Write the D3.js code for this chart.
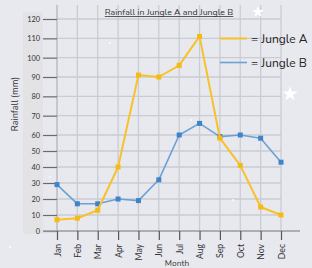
<!DOCTYPE html>
<html>
<head>
<meta charset="utf-8">
<script src="https://cdn.jsdelivr.net/npm/d3@7"></script>
<style>
  html, body { margin: 0; padding: 0; background: #e8e8ef; }
  svg { display: block; font-family: "Nunito", "Lato", "Open Sans", sans-serif; }
</style>
</head>
<body>
<svg id="chart" width="312" height="268"></svg>
<script>
// ---- data ----
var months = ['Jan', 'Feb', 'Mar', 'Apr', 'May', 'Jun', 'Jul', 'Aug', 'Sep', 'Oct', 'Nov', 'Dec'];
var jungleA = [7, 8, 13, 40, 91, 90, 96, 111, 58, 41, 15, 10];
var jungleB = [29, 17, 17, 20, 19, 32, 60, 66, 59, 60, 58, 43];
var yTicks = [0, 10, 20, 30, 40, 50, 60, 70, 80, 90, 100, 110, 120];
var seriesNames = ['Jungle A', 'Jungle B'];

var COLORS = { a: '#f7c22a', aDot: '#f5bb12', b: '#6aa2d8', bDot: '#3f84c8' };

var svg = d3.select('#chart');

// the source picture is a bit stretched above 60, so the y scale has two pieces
var x = d3.scalePoint().domain(months).range([57, 281]);
var y = d3.scaleLinear().domain([0, 60, 120]).range([231, 135, 19]);

// grey strip behind the y labels
svg.append('rect')
  .attr('x', 23).attr('y', 12).attr('width', 20).attr('height', 222)
  .attr('fill', '#e3e3e5');

// grid
var grid = svg.append('g');
grid.selectAll('line.h')
  .data(yTicks.slice(1))
  .enter().append('line')
  .attr('x1', 57).attr('x2', 281)
  .attr('y1', function (d) { return y(d); })
  .attr('y2', function (d) { return y(d); })
  .attr('stroke', '#cbcbd2').attr('stroke-width', 1.3);
grid.selectAll('line.v')
  .data(months)
  .enter().append('line')
  .attr('x1', function (d) { return x(d); })
  .attr('x2', function (d) { return x(d); })
  .attr('y1', 5).attr('y2', 231)
  .attr('stroke', function (d, i) { return i === 0 ? '#b4b4bc' : '#cbcbd2'; })
  .attr('stroke-width', 1.3);

// y axis ticks + labels
var yAxis = svg.append('g')
  .attr('transform', 'translate(57,0)')
  .call(d3.axisLeft(y).tickValues(yTicks).tickSize(14).tickPadding(3));
yAxis.select('.domain').remove();
yAxis.selectAll('.tick line').attr('stroke', '#6a6a6a').attr('stroke-width', 1.2);
yAxis.selectAll('.tick text')
  .attr('fill', '#333').style('font-size', '7.4px')
  .attr('font-family', 'Lato, "Open Sans", sans-serif');

// x axis
svg.append('line')
  .attr('x1', 43).attr('x2', 300).attr('y1', 231).attr('y2', 231)
  .attr('stroke', '#9a9aa0').attr('stroke-width', 1.3);
var xAxis = svg.append('g')
  .attr('transform', 'translate(0,231)')
  .call(d3.axisBottom(x).tickSize(9).tickPadding(4));
xAxis.select('.domain').remove();
xAxis.selectAll('.tick line').attr('stroke', '#555').attr('stroke-width', 1.2);
xAxis.selectAll('.tick text')
  .attr('fill', '#333').style('font-size', '8.6px')
  .attr('font-family', 'Lato, "Open Sans", sans-serif')
  .attr('text-anchor', 'end')
  .attr('dy', '0.35em')
  .attr('transform', 'translate(0,13) rotate(-90)')
  .attr('x', 0).attr('y', 0);

// axis titles
svg.append('text')
  .attr('transform', 'translate(18,104) rotate(-90)')
  .attr('text-anchor', 'middle')
  .attr('fill', '#333').style('font-size', '9px')
  .text('Rainfall (mm)');
svg.append('text')
  .attr('x', 177).attr('y', 265.5)
  .attr('text-anchor', 'middle')
  .attr('fill', '#333').style('font-size', '8.4px')
  .text('Month');

// title, underlined
var title = svg.append('text')
  .attr('x', 169).attr('y', 14.5)
  .attr('text-anchor', 'middle')
  .attr('fill', '#333').style('font-size', '8.8px')
  .text('Rainfall in Jungle A and Jungle B');
var tb = title.node().getBBox();
svg.append('line')
  .attr('x1', tb.x).attr('x2', tb.x + tb.width)
  .attr('y1', 16.5).attr('y2', 16.5)
  .attr('stroke', '#333').attr('stroke-width', 0.8);

// lines
var line = d3.line()
  .x(function (d, i) { return x(months[i]); })
  .y(function (d) { return y(d); });

function drawSeries(values, stroke, dot, width) {
  svg.append('path')
    .datum(values)
    .attr('d', line)
    .attr('fill', 'none')
    .attr('stroke', stroke)
    .attr('stroke-width', width)
    .attr('stroke-linejoin', 'round');
  svg.append('g').selectAll('rect')
    .data(values)
    .enter().append('rect')
    .attr('x', function (d, i) { return x(months[i]) - 2.5; })
    .attr('y', function (d) { return y(d) - 2.5; })
    .attr('width', 5).attr('height', 5)
    .attr('fill', dot);
}
drawSeries(jungleB, COLORS.b, COLORS.bDot, 1.6);
drawSeries(jungleA, COLORS.a, COLORS.aDot, 2);

// legend
var legend = svg.append('g');
[COLORS.a, COLORS.b].forEach(function (c, i) {
  var ly = 38.5 + i * 24;
  legend.append('line')
    .attr('x1', 220).attr('x2', 247).attr('y1', ly).attr('y2', ly)
    .attr('stroke', c).attr('stroke-width', i === 0 ? 2 : 1.6);
  legend.append('text')
    .attr('x', 251).attr('y', ly + 4.5)
    .attr('fill', '#222').style('font-size', '12px')
    .text('= ' + seriesNames[i]);
});

// little white stars / sparkles on the background
var star = d3.symbol().type(d3.symbolStar);
[[258, 12, 45], [290, 94, 70]].forEach(function (s) {
  svg.append('path')
    .attr('d', star.size(s[2])())
    .attr('transform', 'translate(' + s[0] + ',' + s[1] + ')')
    .attr('fill', '#ffffff');
});
[[110, 43], [50, 177], [10, 247], [233, 200], [191, 120]].forEach(function (p) {
  svg.append('circle').attr('cx', p[0]).attr('cy', p[1]).attr('r', 0.9).attr('fill', '#ffffff');
});
</script>
</body>
</html>
